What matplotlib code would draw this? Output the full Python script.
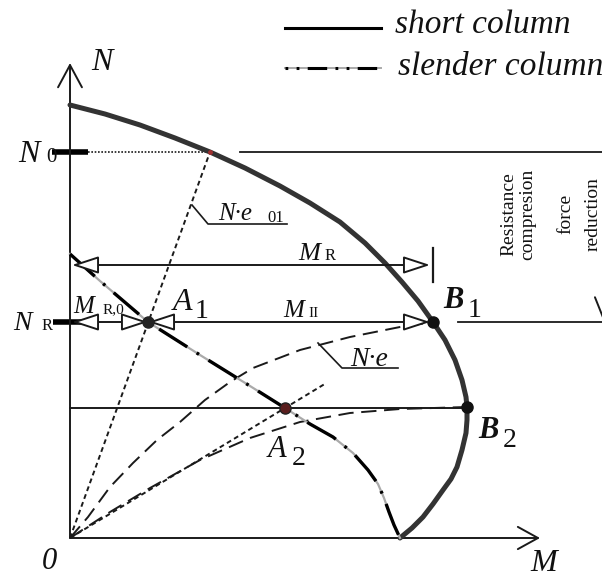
import matplotlib.pyplot as plt

plt.rcParams['lines.scale_dashes'] = False
plt.rcParams['font.family'] = 'Liberation Serif'

# M-N interaction curve of the short column
short_M = [0, 35, 70, 105, 140, 175, 210, 240, 270, 295, 315, 332, 348, 363, 375, 385, 392,
           396, 397, 397, 396, 392, 387, 381, 373, 363, 353, 342, 330]
short_N = [433, 424, 413, 400, 386, 370, 352, 335, 316, 295, 275, 256, 237, 216, 198, 178, 158,
           141, 131, 118, 105, 88, 71, 59, 48, 34, 21, 10, 0]

# reduced curve of the slender column
slender_M = [0, 30, 78, 130, 180, 215, 240, 263, 283, 298, 308, 314, 319, 324, 330]
slender_N = [284, 257, 216, 183, 152, 130, 114, 101, 85, 68, 54, 40, 26, 13, 0]

# load paths N*e (second order moments)
path1_M = [0, 18, 40, 63, 87, 110, 135, 160, 183, 230, 280, 330, 363]
path1_N = [0, 21, 51, 75, 98, 116, 138, 156, 170, 188, 201, 211, 216]
path2_M = [0, 40, 80, 130, 180, 230, 280, 330, 397]
path2_N = [0, 26, 50, 78, 100, 116, 125, 129, 131]

N0 = 386
NR = 216
N2 = 130
MR = 363
M0 = 140
A1 = (78, 216)
A2 = (215, 130)
B1 = (363, 216)
B2 = (397, 131)

fig = plt.figure(figsize=(6.02, 5.78), dpi=100)
ax = fig.add_axes([0, 0, 1, 1])
ax.set_xlim(-70, 532)
ax.set_ylim(-40, 538)
ax.axis('off')

lc = '#1a1a1a'

# axes with open arrow heads
ax.annotate('', xy=(470, 0), xytext=(0, 0),
            arrowprops=dict(arrowstyle='->,head_length=1.45,head_width=0.8',
                            lw=1.4, color=lc, shrinkA=0, shrinkB=0))
ax.annotate('', xy=(0, 475), xytext=(0, 0),
            arrowprops=dict(arrowstyle='->,head_length=1.6,head_width=0.86',
                            lw=1.4, color=lc, shrinkA=0, shrinkB=0))

# curves
ax.plot(short_M, short_N, color='#333333', lw=3.6, solid_capstyle='round',
        solid_joinstyle='round', zorder=3)
ax.plot(slender_M, slender_N, color='#aaaaaa', lw=1.6, zorder=3)
ax.plot(slender_M, slender_N, color='black', lw=2.4, dashes=(24, 8, 2, 8), zorder=3)

ax.plot(path1_M, path1_N, color=lc, lw=1.4, dashes=(11, 5.5))
ax.plot(path2_M, path2_N, color=lc, lw=1.4, dashes=(11, 5.5))

# eccentricity lines from the origin
ax.plot([0, M0], [0, N0], color=lc, lw=1.4, dashes=(3.5, 2.5))
ax.plot([0, A2[0] * 1.18], [0, A2[1] * 1.18], color=lc, lw=1.4, dashes=(3.5, 2.5))

# force levels
ax.plot([-18, 18], [N0, N0], color='black', lw=4, solid_capstyle='butt')
ax.plot([18, M0], [N0, N0], color=lc, lw=1.2, dashes=(1.2, 1.2))
ax.plot([170, 532], [N0, N0], color=lc, lw=1.3)
ax.plot([-17, 12], [NR, NR], color='black', lw=4, solid_capstyle='butt')
ax.plot([388, 532], [NR, NR], color=lc, lw=1.3)
ax.plot([0, B2[0]], [N2, N2], color=lc, lw=1.4)

# dimension arrows
dim = dict(arrowstyle='<|-|>,head_length=1.65,head_width=0.54', lw=1.4,
           fc='white', ec=lc, shrinkA=0, shrinkB=0)
ax.annotate('', xy=(MR - 3, 273), xytext=(2, 273), arrowprops=dim, zorder=4)
ax.plot([MR, MR], [256, 290], color=lc, lw=1.6)
ax.annotate('', xy=(A1[0], NR), xytext=(2, NR), arrowprops=dim, zorder=4)
ax.annotate('', xy=(B1[0] - 3, NR), xytext=(A1[0], NR), arrowprops=dim, zorder=4)

# reduction arrow at the right edge
ax.annotate('', xy=(533, 218), xytext=(533, 384), annotation_clip=False,
            arrowprops=dict(arrowstyle='->,head_length=1.45,head_width=0.58',
                            lw=1.4, color=lc, shrinkA=0, shrinkB=0))

# points
ax.plot(*A1, 'o', color='#222222', ms=8, zorder=5)
ax.plot(*A2, 'o', color='#5a1e1e', mec='#222222', ms=8, zorder=5)
ax.plot(*B1, 'o', color='#111111', ms=8, zorder=5)
ax.plot(*B2, 'o', color='#111111', ms=8, zorder=5)
ax.plot(M0, N0, 'o', color='#a03030', ms=2.5, zorder=5)

# leaders
ax.plot([122, 138, 217], [333, 314, 314], color=lc, lw=1.2)
ax.plot([248, 272, 328], [195, 170, 170], color=lc, lw=1.2)


def txt(x, y, s, size, style='italic', weight='normal', z=3):
    ax.text(x, y, s, fontsize=size, style=style, weight=weight,
            ha='left', va='baseline', color='#111111', zorder=z)


txt(21, 468, 'N', 23)
txt(460, -33, 'M', 23)
txt(-28, -31, '0', 22)
txt(-52, 376, 'N', 23)
txt(-24, 376, '0', 15, 'normal')
txt(-57, 208, 'N', 20)
txt(-28, 208, 'R', 12, 'normal')
txt(228, 278, 'M', 19)
txt(255, 278, 'R', 12, 'normal')
txt(213, 221, 'M', 18)
txt(238, 221, 'II', 11, 'normal')
txt(3, 225, 'M', 18, z=2)
txt(33, 225, 'R,0', 11, 'normal', z=2)
txt(103, 228, 'A', 23)
txt(125, 220, '1', 20, 'normal')
txt(198, 81, 'A', 22)
txt(222, 73, '2', 20, 'normal')
txt(373, 230, 'B', 22, weight='bold')
txt(398, 221, '1', 20, 'normal')
txt(408, 100, 'B', 22, weight='bold')
txt(433, 91, '2', 20, 'normal')
txt(280, 172, 'N·e', 20)
txt(148, 318, 'N·e', 18)
txt(197, 316, '01', 12, 'normal')

# reduction note
for x, s in [(443, 'Resistance'), (462, 'compresion'), (500, 'force'), (528, 'reduction')]:
    ax.text(x, 324, s, fontsize=14, rotation=90, rotation_mode='anchor',
            ha='center', va='baseline', color='#111111')

# legend
ax.plot([215, 311], [510, 510], color='black', lw=2.2)
ax.plot([215, 311], [470, 470], color='#aaaaaa', lw=1.4)
ax.plot([215, 311], [470, 470], color='black', lw=2.2, dashes=(2, 6, 2, 6, 14, 6))
txt(325, 505, 'short column', 24)
txt(328, 463, 'slender column', 24)

fig.savefig('out.png', dpi=100)
